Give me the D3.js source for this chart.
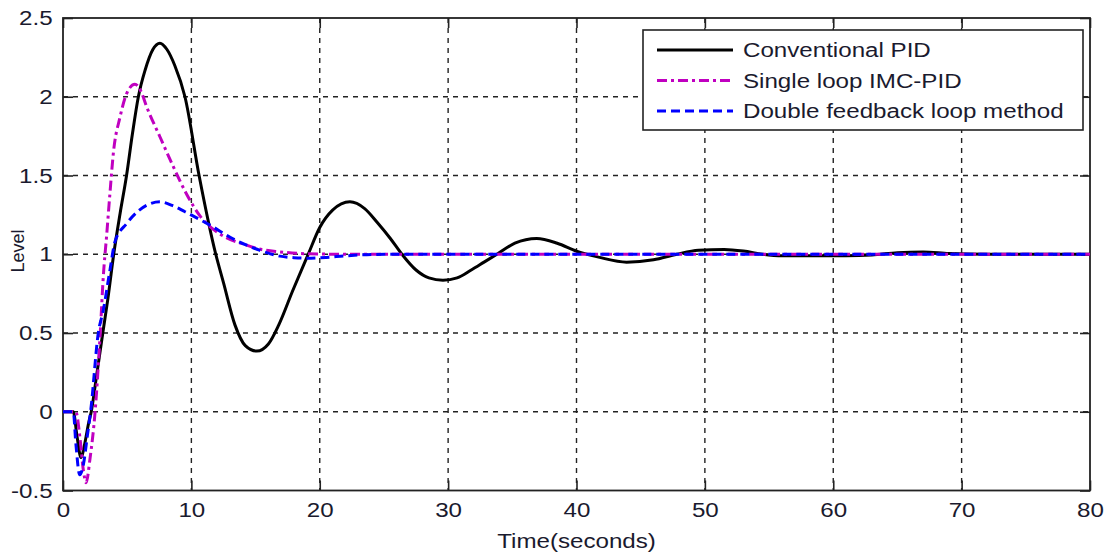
<!DOCTYPE html>
<html>
<head>
<meta charset="utf-8">
<script src="https://cdn.jsdelivr.net/npm/d3@7"></script>
<style>
  body { margin: 0; background: #fff; }
  svg { display: block; font-family: Arial, "Liberation Sans", sans-serif; }
</style>
</head>
<body>
<svg width="1107" height="555"></svg>
<script>
// tick values
var xTicks = [0, 10, 20, 30, 40, 50, 60, 70, 80];
var yTicks = [-0.5, 0, 0.5, 1, 1.5, 2, 2.5];

// series names
var seriesNames = ["Conventional PID", "Single loop IMC-PID", "Double feedback loop method"];

// Conventional PID (time, level)
var pidTime = [0, 0.8, 1.1, 1.4, 1.7, 2.0, 2.2, 2.6, 3.1, 3.5, 3.95, 4.45, 4.95, 5.4, 5.87, 6.4, 7.0, 7.55, 8.1, 8.7, 9.5,
  10.6, 11.9, 12.5, 13.4, 14.2, 15.1, 16.0, 16.8, 17.9, 19.1, 20, 21, 22.35, 23.5, 24.5, 25.5, 26.4,
  27.5, 28.5, 29.6, 30.7, 31.8, 32.8, 33.8, 35.2, 36.9, 38.5, 40, 41.8, 43.9, 46, 47.8, 49.5, 51.5, 53, 54.5,
  56, 58.5, 61, 63, 65, 67, 69, 72, 80];
var pidLevel = [0, 0, -0.16, -0.29, -0.2, -0.07, 0, 0.22, 0.5, 0.72, 1.0, 1.26, 1.5, 1.76, 2.0, 2.17, 2.3, 2.34, 2.3, 2.2, 2.0,
  1.5, 1.0, 0.82, 0.55, 0.42, 0.385, 0.43, 0.55, 0.77, 1.0, 1.17, 1.28, 1.333, 1.29, 1.2, 1.1, 1.0,
  0.9, 0.85, 0.835, 0.85, 0.9, 0.95, 1.0, 1.07, 1.1, 1.07, 1.02, 0.98, 0.95, 0.965, 1.0, 1.025, 1.03, 1.02, 1.0,
  0.99, 0.99, 0.99, 0.995, 1.01, 1.015, 1.005, 1.0, 1.0];

// Single loop IMC-PID
var imcTime = [0, 1.0, 1.3, 1.6, 1.8, 2.1, 2.5, 2.9, 3.14, 3.4, 3.66, 3.92, 4.44, 4.96, 5.6, 6.1, 6.5, 7.55, 8.6, 9.6,
  10.7, 12.2, 14.3, 15.1, 16.9, 19, 22, 80];
var imcLevel = [0, 0, -0.15, -0.38, -0.45, -0.3, 0, 0.5, 0.86, 1.12, 1.39, 1.64, 1.87, 2.02, 2.08, 2.03, 1.94, 1.746, 1.555, 1.386,
  1.24, 1.13, 1.058, 1.037, 1.015, 1.003, 1.0, 1.0];

// Double feedback loop method
var dflTime = [0, 0.8, 1.0, 1.3, 1.6, 1.9, 2.15, 2.75, 3.14, 3.66, 4.05, 4.96, 5.8, 6.5, 7.55, 8.5, 9.5, 11.45, 13.2, 15.3,
  16.9, 18, 19, 20.5, 22, 24, 26, 80];
var dflLevel = [0, 0, -0.2, -0.4, -0.33, -0.15, 0, 0.5, 0.645, 0.9, 1.08, 1.195, 1.27, 1.31, 1.333, 1.31, 1.27, 1.185, 1.1, 1.026,
  0.988, 0.978, 0.975, 0.98, 0.99, 0.998, 1.0, 1.0];

var svg = d3.select("svg"),
    margin = { top: 18, right: 17, bottom: 64.5, left: 63 },
    width = +svg.attr("width") - margin.left - margin.right,
    height = +svg.attr("height") - margin.top - margin.bottom,
    g = svg.append("g").attr("transform", "translate(" + margin.left + "," + margin.top + ")");

var x = d3.scaleLinear().domain([0, 80]).range([0, width]);
var y = d3.scaleLinear().domain([-0.5, 2.5]).range([height, 0]);

var fontSize = 21, stretch = 1.15;

// dashed grid
g.append("g").selectAll("line")
    .data(xTicks.slice(1, -1))
    .enter().append("line")
    .attr("x1", function (d) { return x(d); })
    .attr("x2", function (d) { return x(d); })
    .attr("y1", 0).attr("y2", height)
    .attr("stroke", "#222").attr("stroke-width", 1.4)
    .attr("stroke-dasharray", "5,5");

g.append("g").selectAll("line")
    .data(yTicks.slice(1, -1))
    .enter().append("line")
    .attr("y1", function (d) { return y(d); })
    .attr("y2", function (d) { return y(d); })
    .attr("x1", 0).attr("x2", width)
    .attr("stroke", "#222").attr("stroke-width", 1.4)
    .attr("stroke-dasharray", "5,5");

// axes with inward ticks on all four sides
function styleAxis(sel) {
    sel.select(".domain").remove();
    sel.selectAll(".tick line").attr("stroke", "#222").attr("stroke-width", 1.6);
    sel.selectAll("text").attr("font-size", fontSize).attr("fill", "#1a1a2e")
        .attr("font-family", "Arial, 'Liberation Sans', sans-serif");
}

var xAxis = g.append("g")
    .attr("transform", "translate(0," + height + ")")
    .call(d3.axisBottom(x).tickValues(xTicks).tickSizeInner(-10).tickSizeOuter(0).tickPadding(12).tickFormat(d3.format("d")))
    .call(styleAxis);
xAxis.selectAll("text").attr("transform", "scale(" + stretch + ",1)");

var yAxis = g.append("g")
    .call(d3.axisLeft(y).tickValues(yTicks).tickSizeInner(-10).tickSizeOuter(0).tickPadding(9).tickFormat(function (d) { return String(d); }))
    .call(styleAxis);
yAxis.selectAll("text").attr("transform", "scale(" + stretch + ",1)");

g.append("g")
    .call(d3.axisTop(x).tickValues(xTicks).tickSizeInner(-10).tickSizeOuter(0).tickFormat(""))
    .call(styleAxis);
g.append("g")
    .attr("transform", "translate(" + width + ",0)")
    .call(d3.axisRight(y).tickValues(yTicks).tickSizeInner(-10).tickSizeOuter(0).tickFormat(""))
    .call(styleAxis);

// plot box
g.append("rect")
    .attr("width", width).attr("height", height)
    .attr("fill", "none").attr("stroke", "#222").attr("stroke-width", 1.8);

// series
var series = [
    { name: seriesNames[0], t: pidTime, v: pidLevel, color: "#000000", dash: null },
    { name: seriesNames[1], t: imcTime, v: imcLevel, color: "#c000c0", dash: "10,4,3,4" },
    { name: seriesNames[2], t: dflTime, v: dflLevel, color: "#0000ff", dash: "9,5" }
];

var line = d3.line()
    .x(function (d) { return x(d[0]); })
    .y(function (d) { return y(d[1]); })
    .curve(d3.curveMonotoneX);

series.forEach(function (s) {
    var pts = s.t.map(function (t, i) { return [t, s.v[i]]; });
    g.append("path")
        .datum(pts)
        .attr("fill", "none")
        .attr("stroke", s.color)
        .attr("stroke-width", 3)
        .attr("stroke-dasharray", s.dash)
        .attr("stroke-linejoin", "round")
        .attr("d", line);
});

// axis titles
svg.append("text")
    .attr("transform", "translate(" + (margin.left + width / 2) + ",548) scale(" + stretch + ",1)")
    .attr("text-anchor", "middle")
    .attr("font-size", fontSize)
    .attr("fill", "#1a1a2e")
    .text("Time(seconds)");

svg.append("text")
    .attr("transform", "translate(24,251) rotate(-90)")
    .attr("text-anchor", "middle")
    .attr("font-size", 18)
    .attr("fill", "#1a1a2e")
    .text("Level");

// legend
var legend = svg.append("g").attr("transform", "translate(643,30)");
legend.append("rect")
    .attr("width", 440).attr("height", 100)
    .attr("fill", "#fff").attr("stroke", "#222").attr("stroke-width", 1.6);

var row = legend.selectAll(".row")
    .data(series)
    .enter().append("g")
    .attr("class", "row")
    .attr("transform", function (d, i) { return "translate(0," + (20 + i * 30.5) + ")"; });

row.append("line")
    .attr("x1", 14).attr("x2", 90)
    .attr("stroke", function (d) { return d.color; })
    .attr("stroke-width", 3)
    .attr("stroke-dasharray", function (d) { return d.dash; });

row.append("text")
    .attr("transform", "translate(100,7) scale(" + stretch + ",1)")
    .attr("font-size", fontSize)
    .attr("fill", "#1a1a2e")
    .text(function (d) { return d.name; });
</script>
</body>
</html>
